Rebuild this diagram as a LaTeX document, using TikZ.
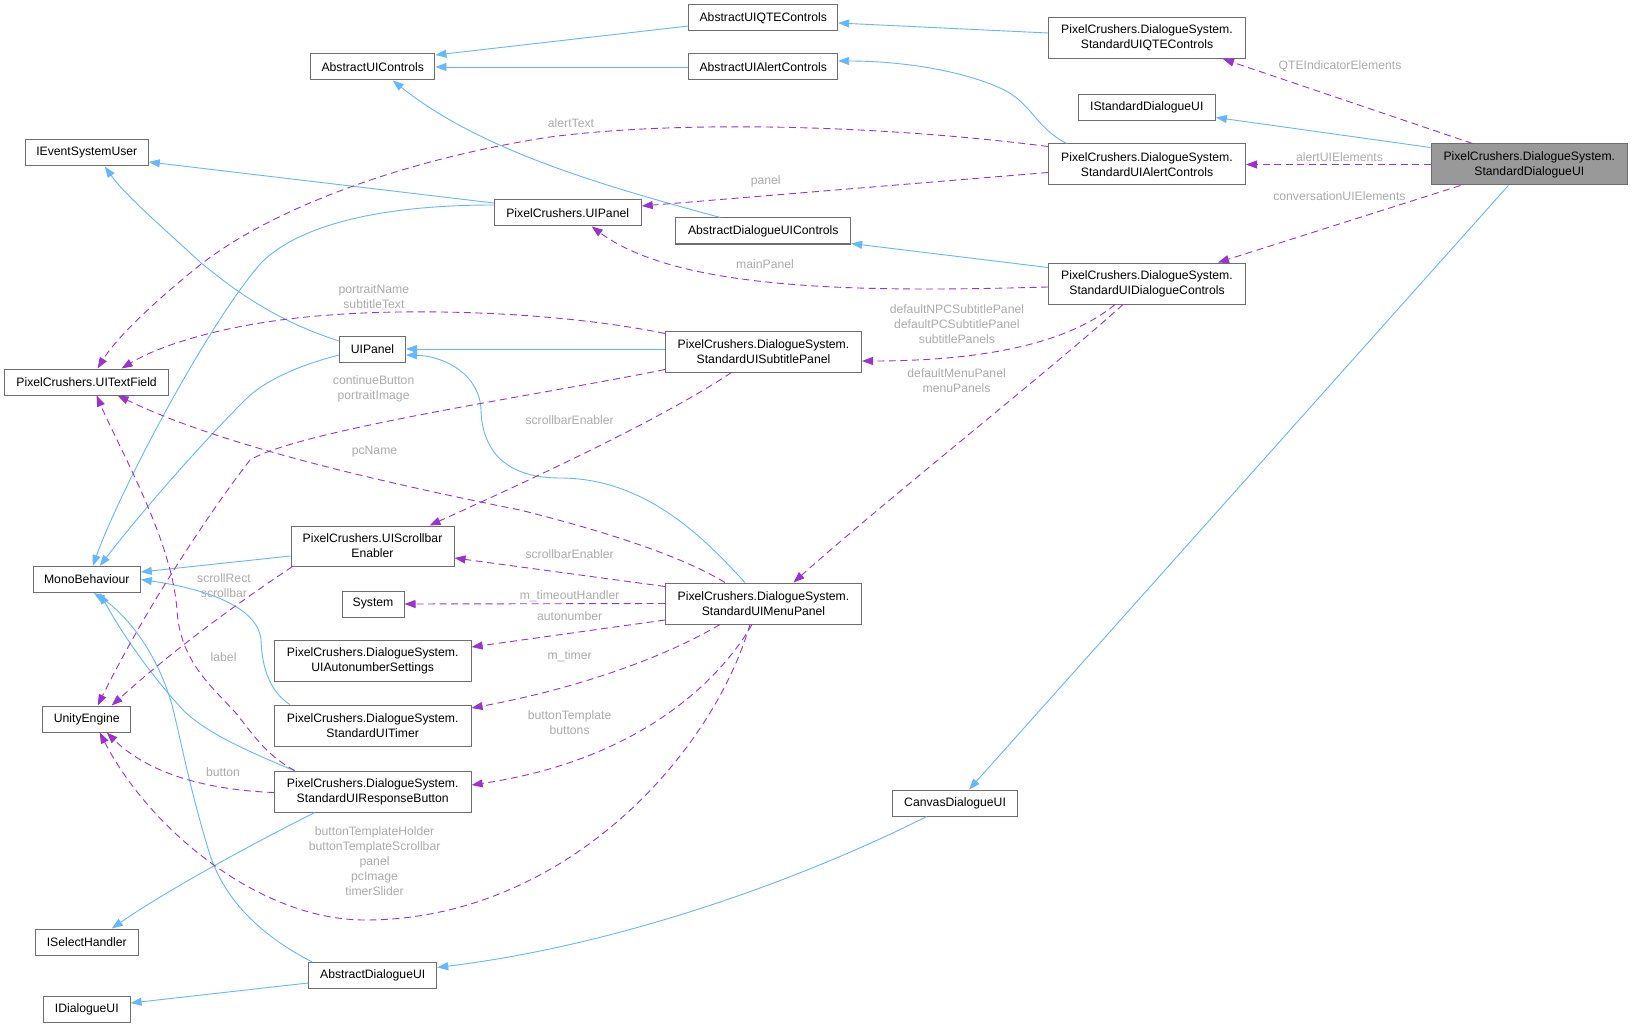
\documentclass[tikz,border=0pt]{standalone}
\usepackage{fontspec}
\setmainfont{Liberation Sans}
\usetikzlibrary{arrows.meta,calc}
\definecolor{inhc}{HTML}{63B8FF}
\definecolor{usec}{HTML}{9A32CD}
\definecolor{lblc}{HTML}{ABABAB}
\definecolor{bordc}{HTML}{6E6E6E}
\definecolor{mainfill}{HTML}{999999}
\begin{document}
\begin{tikzpicture}[x=1pt,y=-1pt,
  font=\fontsize{12.2}{15}\selectfont,
  box/.style={draw=bordc, line width=1pt, fill=white, minimum height=26pt, inner sep=0pt, align=center},
  box2/.style={box, minimum height=41pt},
  inh/.style={draw=inhc, line width=0.9pt, -{Triangle[length=11pt,width=8pt]}},
  use/.style={draw=usec, line width=0.9pt, dash pattern=on 7pt off 4.5pt, -{Triangle[length=11pt,width=8pt]}},
  lbl/.style={text=lblc, align=center, inner sep=0pt}]
\useasboundingbox[fill=white] (0,0) rectangle (1633,1027);

% ---------- nodes ----------
\node[box, minimum width=148.7pt] (qte) at (763.3,18) {AbstractUIQTEControls};
\node[box, minimum width=124.5pt] (auic) at (372.7,67) {AbstractUIControls};
\node[box, minimum width=148.7pt] (aalert) at (763.3,67) {AbstractUIAlertControls};
\node[box2, minimum width=197pt] (sqte) at (1147,38) {PixelCrushers.DialogueSystem.\\StandardUIQTEControls};
\node[box, minimum width=137pt] (isdui) at (1146.8,107.5) {IStandardDialogueUI};
\node[box2, minimum width=197pt] (salert) at (1147,164.5) {PixelCrushers.DialogueSystem.\\StandardUIAlertControls};
\node[box2, minimum width=196.6pt, fill=mainfill] (sdui) at (1529.3,164.5) {PixelCrushers.DialogueSystem.\\StandardDialogueUI};
\node[box, minimum width=123pt] (iesu) at (86.8,153) {IEventSystemUser};
\node[box, minimum width=147pt] (puipanel) at (567.7,213) {PixelCrushers.UIPanel};
\node[box, minimum width=174.7pt] (aduic) at (763.3,231) {AbstractDialogueUIControls};
\node[box2, minimum width=197pt] (sdc) at (1147,283.5) {PixelCrushers.DialogueSystem.\\StandardUIDialogueControls};
\node[box, minimum width=66pt] (uipanel) at (372.5,349) {UIPanel};
\node[box2, minimum width=196pt] (ssub) at (763.5,351.5) {PixelCrushers.DialogueSystem.\\StandardUISubtitlePanel};
\node[box, minimum width=164pt] (uitf) at (86.6,382) {PixelCrushers.UITextField};
\node[box, minimum width=107pt] (mono) at (86.8,579.5) {MonoBehaviour};
\node[box2, minimum width=163pt, minimum height=40pt] (scroll) at (372.5,546) {PixelCrushers.UIScrollbar\\Enabler};
\node[box, minimum width=62pt] (system) at (373,604) {System};
\node[box2, minimum width=196.8pt] (auto) at (372.7,660.5) {PixelCrushers.DialogueSystem.\\UIAutonumberSettings};
\node[box2, minimum width=196pt] (smenu) at (763.5,603.5) {PixelCrushers.DialogueSystem.\\StandardUIMenuPanel};
\node[box, minimum width=88pt] (unity) at (86.7,719) {UnityEngine};
\node[box2, minimum width=196.8pt] (timer) at (372.7,725.5) {PixelCrushers.DialogueSystem.\\StandardUITimer};
\node[box2, minimum width=196.8pt] (resp) at (372.7,791.5) {PixelCrushers.DialogueSystem.\\StandardUIResponseButton};
\node[box, minimum width=125.6pt] (canvas) at (955.1,803) {CanvasDialogueUI};
\node[box, minimum width=102.8pt] (isel) at (86.8,942) {ISelectHandler};
\node[box, minimum width=128pt] (adui) at (372.7,975.5) {AbstractDialogueUI};
\node[box, minimum width=86.6pt] (idui) at (86.8,1009) {IDialogueUI};

% ---------- inheritance ----------
\draw[inh] ($(sqte.west)+(0,-5)$) -- ($(qte.east)+(0,5)$);
\draw[inh] ($(qte.west)+(0,8)$) -- ($(auic.east)+(0,-12)$);
\draw[inh] (aalert) -- (auic);
\draw[inh] ($(salert.north west)+(19,0)$) .. controls (1035,128) and (1032,102) .. (1000,88)
   .. controls (960,70) and (900,61) .. ($(aalert.east)+(0,-6)$);
\draw[inh] ($(sdui.north west)+(0,4)$) -- ($(isdui.east)+(0,10)$);
\draw[inh] ($(aduic.north west)+(45,0)$) .. controls (600,185) and (480,150) .. ($(auic.south)+(20,0)$);
\draw[inh] ($(sdc.north west)+(0,5)$) -- ($(aduic.south east)+(0,-1)$);
\draw[inh] ($(puipanel.west)+(0,-10)$) -- ($(iesu.east)+(0,9)$);
\draw[inh] ($(puipanel.west)+(0,-8)$) .. controls (380,205) and (300,225) .. (262,262)
   .. controls (210,320) and (120,490) .. ($(mono.north)+(6,0)$);
\draw[inh] ($(uipanel.west)+(0,-8)$) .. controls (280,322) and (240,295) .. (200,262)
   .. controls (160,225) and (125,195) .. ($(iesu.south)+(18,0)$);
\draw[inh] ($(uipanel.west)+(0,6)$) .. controls (300,365) and (265,380) .. (245,400)
   .. controls (195,450) and (135,520) .. ($(mono.north)+(13,0)$);
\draw[inh] ($(ssub.west)+(0,-2.5)$) -- (uipanel.east);
\draw[inh] ($(smenu.north west)+(80,0)$) .. controls (710,545) and (650,478) .. (560,478)
   .. controls (500,478) and (482,445) .. (481,410)
   .. controls (480,375) and (445,356) .. ($(uipanel.east)+(0,6)$);
\draw[inh] ($(scroll.west)+(0,10)$) -- ($(mono.east)+(0,-7.5)$);
\draw[inh] ($(timer.north west)+(16,0)$) .. controls (268,690) and (262,665) .. (261,640)
   .. controls (258,605) and (200,588) .. (mono.east);
\draw[inh] ($(resp.north west)+(20,0)$) .. controls (250,752) and (210,735) .. (185,712)
   .. controls (150,675) and (120,630) .. ($(mono.south)+(13,0)$);
\draw[inh] ($(adui.north west)+(4,0)$) .. controls (260,935) and (225,900) .. (210,855)
   .. controls (190,790) and (182,745) .. (172,705)
   .. controls (155,645) and (120,610) .. ($(mono.south)+(7,0)$);
\draw[inh] ($(resp.south west)+(41,0)$) .. controls (240,850) and (160,895) .. ($(isel.north)+(25,0)$);
\draw[inh] ($(adui.west)+(0,7.5)$) -- ($(idui.east)+(0,-6)$);
\draw[inh] ($(canvas.south west)+(35,0)$) .. controls (800,880) and (620,945) .. ($(adui.east)+(0,-8)$);
\draw[inh] ($(sdui.south)+(-21,0)$) -- ($(canvas.north)+(14,0)$);

% ---------- usage ----------
\draw[use] ($(sdui.north west)+(42,0)$) -- ($(sqte.south east)+(-23,0)$);
\draw[use] (sdui.west) -- (salert.east);
\draw[use] ($(sdui.south west)+(30,0)$) -- ($(sdc.north east)+(-28,0)$);
\draw[use] ($(salert.west)+(0,8)$) -- ($(puipanel.east)+(0,-7)$);
\draw[use] ($(salert.west)+(0,-18)$) .. controls (880,125) and (680,120) .. (550,137)
   .. controls (400,160) and (270,210) .. (200,265)
   .. controls (150,305) and (115,340) .. ($(uitf.north)+(11,0)$);
\draw[use] ($(sdc.west)+(0,3.5)$) .. controls (870,292) and (680,292) .. ($(puipanel.south)+(24,0)$);
\draw[use] ($(sdc.south west)+(67,0)$) .. controls (1060,350) and (960,361) .. ($(ssub.east)+(0,9.5)$);
\draw[use] ($(sdc.south west)+(75,0)$) .. controls (1060,362) and (880,505) .. ($(smenu.north)+(30,0)$);
\draw[use] ($(ssub.north west)+(0,3)$) .. controls (560,312) and (420,308) .. (330,315)
   .. controls (230,322) and (160,345) .. ($(uitf.north)+(35,0)$);
\draw[use] ($(ssub.south west)+(0,-3)$) .. controls (540,395) and (300,430) .. (250,460)
   .. controls (215,505) and (150,600) .. ($(unity.north)+(11,0)$);
\draw[use] ($(ssub.south)+(-32,0)$) .. controls (660,420) and (530,480) .. ($(scroll.north east)+(-25,0)$);
\draw[use] ($(smenu.west)+(0,-17)$) -- ($(scroll.east)+(0,12)$);
\draw[use] ($(smenu.north west)+(60,0)$) .. controls (680,555) and (600,530) .. (520,510)
   .. controls (380,482) and (220,445) .. ($(uitf.south)+(31,0)$);
\draw[use] (smenu.west) -- (system.east);
\draw[use] ($(smenu.west)+(0,16.5)$) -- ($(auto.east)+(0,-13.5)$);
\draw[use] ($(smenu.south west)+(55,0)$) .. controls (660,660) and (570,690) .. ($(timer.east)+(0,-17.5)$);
\draw[use] ($(smenu.south west)+(87,0)$) .. controls (720,680) and (640,760) .. ($(resp.east)+(0,-6.5)$);
\draw[use] ($(smenu.south west)+(85,0)$) .. controls (710,760) and (560,920) .. (365,920)
   .. controls (260,920) and (150,830) .. ($(unity.south)+(13,0)$);
\draw[use] ($(resp.west)+(0,1)$) .. controls (210,790) and (150,775) .. ($(unity.south)+(20,0)$);
\draw[use] ($(resp.north west)+(21,0)$) .. controls (265,755) and (250,730) .. (235,712)
   .. controls (210,685) and (180,660) .. (177,610)
   .. controls (172,540) and (120,450) .. ($(uitf.south)+(10,0)$);
\draw[use] ($(scroll.south west)+(2,0)$) .. controls (265,585) and (190,635) .. ($(unity.north)+(25,0)$);

% ---------- labels ----------
\node[lbl] (l1) at (1340,66.7) {QTEIndicatorElements};
\node[lbl] (l2) at (1339.5,156.7) {alertUIElements};
\node[lbl] (l3) at (1339.4,195.7) {conversationUIElements};
\node[lbl] (l4) at (765.7,181) {panel};
\node[lbl] (l5) at (571,122.7) {alertText};
\node[lbl] (l6) at (765,264) {mainPanel};
\node[lbl] (l7) at (956.9,323.7) {defaultNPCSubtitlePanel\\defaultPCSubtitlePanel\\subtitlePanels};
\node[lbl] (l8) at (956.6,380.2) {defaultMenuPanel\\menuPanels};
\node[lbl] (l9) at (373.9,297) {portraitName\\subtitleText};
\node[lbl] (l10) at (373.6,388.7) {continueButton\\portraitImage};
\node[lbl] (l11) at (569.6,420) {scrollbarEnabler};
\node[lbl] (l12) at (374.5,451.7) {pcName};
\node[lbl] (l13) at (569.6,554.3) {scrollbarEnabler};
\node[lbl] (l14) at (569.6,596) {m\_timeoutHandler};
\node[lbl] (l15) at (569.6,616) {autonumber};
\node[lbl] (l16) at (569.6,656) {m\_timer};
\node[lbl] (l17) at (569.6,722.5) {buttonTemplate\\buttons};
\node[lbl] (l18) at (374.6,860.7) {buttonTemplateHolder\\buttonTemplateScrollbar\\panel\\pcImage\\timerSlider};
\node[lbl] (l19) at (223,771.7) {button};
\node[lbl] (l20) at (223.6,656.7) {label};
\node[lbl] (l21) at (224,585.2) {scrollRect\\scrollbar};
\end{tikzpicture}
\end{document}
